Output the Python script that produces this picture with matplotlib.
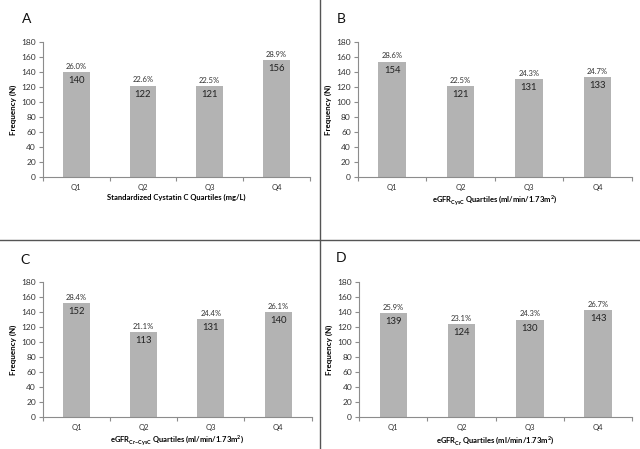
import numpy as np
import matplotlib
matplotlib.use("Agg")
import matplotlib.pyplot as plt
from matplotlib.lines import Line2D

plt.rcParams['font.family'] = ['Lato', 'DejaVu Sans']
plt.rcParams['mathtext.fontset'] = 'custom'
plt.rcParams['mathtext.rm'] = 'Lato'
plt.rcParams['mathtext.bf'] = 'Lato:bold'

""" data """
quartiles = ['Q1', 'Q2', 'Q3', 'Q4']
panel_letters = ['A', 'B', 'C', 'D']
counts_a = [140, 122, 121, 156]
counts_b = [154, 121, 131, 133]
counts_c = [152, 113, 131, 140]
counts_d = [139, 124, 130, 143]
pct_a = ['26.0%', '22.6%', '22.5%', '28.9%']
pct_b = ['28.6%', '22.5%', '24.3%', '24.7%']
pct_c = ['28.4%', '21.1%', '24.4%', '26.1%']
pct_d = ['25.9%', '23.1%', '24.3%', '26.7%']
xlabels = ['Standardized Cystatin C Quartiles (mg/L)',
           r'eGFR$_{\mathbf{CysC}}$ Quartiles (ml/min/1.73m$^{\mathbf{2}}$)',
           r'eGFR$_{\mathbf{Cr\!-\!CysC}}$ Quartiles (ml/min/1.73m$^{\mathbf{2}}$)',
           r'eGFR$_{\mathbf{Cr}}$ Quartiles (ml/min/1.73m$^{\mathbf{2}}$)']

""" layout """
bar_color = '#b3b3b3'
axis_color = '#8c8c8c'
positions = [[0.067, 0.606, 0.417, 0.300],
             [0.559, 0.606, 0.428, 0.300],
             [0.067, 0.071, 0.420, 0.301],
             [0.561, 0.071, 0.427, 0.301]]
letter_pos = [(0.042, 0.958), (0.533, 0.958), (0.039, 0.421), (0.533, 0.425)]

fig = plt.figure(figsize=(6.4, 4.49), dpi=100)

all_counts = [counts_a, counts_b, counts_c, counts_d]
all_pct = [pct_a, pct_b, pct_c, pct_d]

for k in range(4):
    ax = fig.add_axes(positions[k])
    x = np.arange(len(quartiles))
    ax.bar(x, all_counts[k], width=0.4, color=bar_color, zorder=2)
    for i in range(len(quartiles)):
        ax.text(x[i], all_counts[k][i] - 5.5, str(all_counts[k][i]), ha='center',
                va='top', fontsize=6.8, color='#222222')
        ax.text(x[i], all_counts[k][i] + 3, all_pct[k][i], ha='center',
                va='bottom', fontsize=5.5, color='#333333')
    ax.set_xlim(-0.5, 3.5)
    ax.set_ylim(0, 180)
    ax.set_yticks(np.arange(0, 181, 20))
    ax.set_xticks(np.arange(-0.5, 3.6, 1))
    ax.set_xticklabels([])
    ax.set_xticks(x, minor=True)
    ax.set_xticklabels(quartiles, minor=True)
    ax.tick_params(axis='x', which='major', length=3, color=axis_color, direction='out')
    ax.tick_params(axis='x', which='minor', length=0, labelsize=5.5, pad=5, labelcolor='#333333')
    ax.tick_params(axis='y', length=3, color=axis_color, labelsize=6, labelcolor='#333333', pad=2)
    for s in ['top', 'right']:
        ax.spines[s].set_visible(False)
    for s in ['left', 'bottom']:
        ax.spines[s].set_color(axis_color)
        ax.spines[s].set_linewidth(0.8)
    ax.set_ylabel('Frequency (N)', fontsize=5.8, fontweight='bold', labelpad=3)
    ax.set_xlabel(xlabels[k], fontsize=5.5, fontweight='bold', labelpad=2)
    fig.text(letter_pos[k][0], letter_pos[k][1], panel_letters[k], fontsize=10,
             ha='center', va='center', color='#111111')

# panel dividers
fig.add_artist(Line2D([0.5, 0.5], [0, 1], color='#555555', lw=1.0, transform=fig.transFigure))
fig.add_artist(Line2D([0, 1], [1 - 240 / 449, 1 - 240 / 449], color='#555555', lw=1.0,
                      transform=fig.transFigure))

fig.savefig('out.png', dpi=100)
